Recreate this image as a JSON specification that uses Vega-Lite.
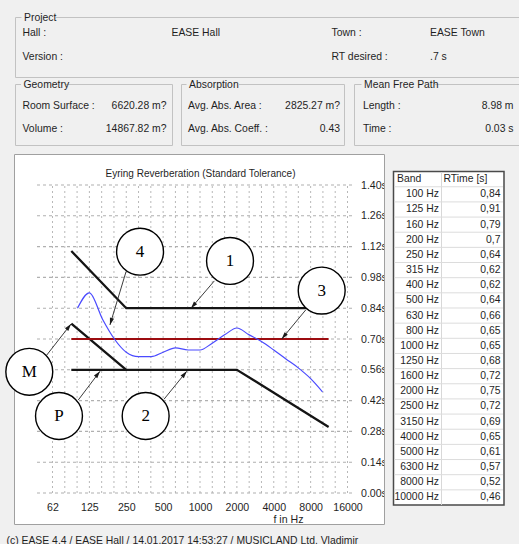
{
  "$schema": "https://vega.github.io/schema/vega-lite/v6.json",
  "width": 318,
  "height": 308,
  "autosize": {"type": "none"},
  "padding": {"left": 37, "top": 185, "right": 164, "bottom": 51},
  "background": "#ffffff",
  "config": {
    "view": {"stroke": null},
    "font": "Liberation Sans",
    "text": {"font": "Liberation Sans", "fontSize": 10.4, "color": "#1f1f1f"},
    "axis": {
      "labelFont": "Liberation Sans", "labelFontSize": 10.6, "labelColor": "#1f1f1f",
      "titleFont": "Liberation Sans", "titleFontSize": 10.6, "titleFontWeight": "normal", "titleColor": "#1f1f1f"
    },
    "locale": {"number": {"decimal": ",", "thousands": ".", "grouping": [3], "currency": ["", " €"]}}
  },
  "datasets": {
    "frames": [
      {"kind": "window", "left": 0, "top": 0, "right": 519, "bottom": 154},
      {"kind": "window", "left": 0, "top": 154, "right": 14, "bottom": 544},
      {"kind": "window", "left": 385, "top": 154, "right": 519, "bottom": 544},
      {"kind": "window", "left": 0, "top": 525, "right": 519, "bottom": 544},
      {"kind": "panel", "left": 14.5, "top": 154.5, "right": 384.5, "bottom": 524.5},
      {"kind": "group", "left": 15.5, "top": 17.5, "right": 530, "bottom": 77.5},
      {"kind": "group", "left": 15.5, "top": 84.5, "right": 172.5, "bottom": 145.5},
      {"kind": "group", "left": 181.5, "top": 84.5, "right": 344.5, "bottom": 145.5},
      {"kind": "group", "left": 354.5, "top": 84.5, "right": 530, "bottom": 145.5},
      {"kind": "table", "left": 393.5, "top": 171.5, "right": 504, "bottom": 505},
      {"kind": "divider", "left": 441.5, "top": 172, "right": 441.5, "bottom": 505}
    ],
    "groupTitles": [
      {"title": "Project", "from": 21.5, "to": 56, "mid": 17.5, "top": 14, "bottom": 21},
      {"title": "Geometry", "from": 21, "to": 66, "mid": 84.5, "top": 81, "bottom": 88},
      {"title": "Absorption", "from": 186.5, "to": 239, "mid": 84.5, "top": 81, "bottom": 88},
      {"title": "Mean Free Path", "from": 361.5, "to": 435, "mid": 84.5, "top": 81, "bottom": 88}
    ],
    "captionsLeft": [
      {"text": "Hall :", "x": 22.5, "y": 33},
      {"text": "EASE Hall", "x": 171.5, "y": 33},
      {"text": "Town :", "x": 331.5, "y": 33},
      {"text": "EASE Town", "x": 430, "y": 33},
      {"text": "Version :", "x": 22.5, "y": 57},
      {"text": "RT desired :", "x": 331.5, "y": 57},
      {"text": ".7 s", "x": 430, "y": 57},
      {"text": "Room Surface :", "x": 22.5, "y": 105.5},
      {"text": "Volume :", "x": 22.5, "y": 129},
      {"text": "Avg. Abs. Area :", "x": 188, "y": 105.5},
      {"text": "Avg. Abs. Coeff. :", "x": 188, "y": 129},
      {"text": "Length :", "x": 363, "y": 105.5},
      {"text": "Time :", "x": 363, "y": 129},
      {"text": "(c) EASE 4.4  / EASE Hall  / 14.01.2017 14:53:27 / MUSICLAND Ltd. Vladimir", "x": 6.5, "y": 540.5}
    ],
    "captionsRight": [
      {"text": "6620.28 m?", "x": 166.5, "y": 105.5},
      {"text": "14867.82 m?", "x": 166.5, "y": 129},
      {"text": "2825.27 m?", "x": 340, "y": 105.5},
      {"text": "0.43", "x": 340, "y": 129},
      {"text": "8.98 m", "x": 513.5, "y": 105.5},
      {"text": "0.03 s", "x": 513.5, "y": 129}
    ],
    "chartTitle": [
      {"text": "Eyring Reverberation (Standard Tolerance)", "x": 200.5, "y": 174}
    ],
    "thirdOctaves": [
      {"f": 62.5}, {"f": 78.745}, {"f": 99.213}, {"f": 125}, {"f": 157.49}, {"f": 198.43}, {"f": 250},
      {"f": 314.98}, {"f": 396.85}, {"f": 500}, {"f": 629.96}, {"f": 793.7}, {"f": 1000}, {"f": 1259.9},
      {"f": 1587.4}, {"f": 2000}, {"f": 2519.8}, {"f": 3174.8}, {"f": 4000}, {"f": 5039.7}, {"f": 6349.6},
      {"f": 8000}, {"f": 10079}, {"f": 12699}, {"f": 16000}
    ],
    "levelLines": [
      {"level": 0, "f": 46.7}, {"level": 0, "f": 18420},
      {"level": 0.14, "f": 46.7}, {"level": 0.14, "f": 18420},
      {"level": 0.28, "f": 46.7}, {"level": 0.28, "f": 18420},
      {"level": 0.42, "f": 46.7}, {"level": 0.42, "f": 18420},
      {"level": 0.56, "f": 46.7}, {"level": 0.56, "f": 18420},
      {"level": 0.7, "f": 46.7}, {"level": 0.7, "f": 18420},
      {"level": 0.84, "f": 46.7}, {"level": 0.84, "f": 18420},
      {"level": 0.98, "f": 46.7}, {"level": 0.98, "f": 18420},
      {"level": 1.12, "f": 46.7}, {"level": 1.12, "f": 18420},
      {"level": 1.26, "f": 46.7}, {"level": 1.26, "f": 18420},
      {"level": 1.4, "f": 46.7}, {"level": 1.4, "f": 18420}
    ],
    "limits": [
      {"curve": "upper", "f": 89, "t": 1.1},
      {"curve": "upper", "f": 250, "t": 0.84},
      {"curve": "upper", "f": 11220, "t": 0.84},
      {"curve": "lower", "f": 89, "t": 0.56},
      {"curve": "lower", "f": 2000, "t": 0.56},
      {"curve": "lower", "f": 11220, "t": 0.3},
      {"curve": "bass", "f": 89, "t": 0.77},
      {"curve": "bass", "f": 250, "t": 0.56}
    ],
    "target": [
      {"f": 89, "t": 0.7},
      {"f": 11220, "t": 0.7}
    ],
    "rt": [
      {"band": "100 Hz", "f": 100, "rt": 0.84},
      {"band": "125 Hz", "f": 125, "rt": 0.91},
      {"band": "160 Hz", "f": 160, "rt": 0.79},
      {"band": "200 Hz", "f": 200, "rt": 0.7},
      {"band": "250 Hz", "f": 250, "rt": 0.64},
      {"band": "315 Hz", "f": 315, "rt": 0.62},
      {"band": "400 Hz", "f": 400, "rt": 0.62},
      {"band": "500 Hz", "f": 500, "rt": 0.64},
      {"band": "630 Hz", "f": 630, "rt": 0.66},
      {"band": "800 Hz", "f": 800, "rt": 0.65},
      {"band": "1000 Hz", "f": 1000, "rt": 0.65},
      {"band": "1250 Hz", "f": 1250, "rt": 0.68},
      {"band": "1600 Hz", "f": 1600, "rt": 0.72},
      {"band": "2000 Hz", "f": 2000, "rt": 0.75},
      {"band": "2500 Hz", "f": 2500, "rt": 0.72},
      {"band": "3150 Hz", "f": 3150, "rt": 0.69},
      {"band": "4000 Hz", "f": 4000, "rt": 0.65},
      {"band": "5000 Hz", "f": 5000, "rt": 0.61},
      {"band": "6300 Hz", "f": 6300, "rt": 0.57},
      {"band": "8000 Hz", "f": 8000, "rt": 0.52},
      {"band": "10000 Hz", "f": 10000, "rt": 0.46}
    ],
    "callouts": [
      {"mark": "4", "f": 324, "t": 1.097, "fFrom": 249, "tFrom": 1.006, "fTo": 184, "tTo": 0.764, "heading": -163.3},
      {"mark": "1", "f": 1758, "t": 1.055, "fFrom": 1309, "tFrom": 0.964, "fTo": 844, "tTo": 0.84, "heading": -139.5},
      {"mark": "3", "f": 9850, "t": 0.92, "fFrom": 7294, "tFrom": 0.832, "fTo": 4645, "tTo": 0.7, "heading": -140.7},
      {"mark": "M", "f": 40.4, "t": 0.551, "fFrom": 56.1, "tFrom": 0.627, "fTo": 88.5, "tTo": 0.768, "heading": 38.1},
      {"mark": "P", "f": 70.6, "t": 0.35, "fFrom": 101.5, "tFrom": 0.423, "fTo": 152.6, "tTo": 0.553, "heading": 38.5},
      {"mark": "2", "f": 360, "t": 0.35, "fFrom": 508, "tFrom": 0.426, "fTo": 779, "tTo": 0.553, "heading": 39.4}
    ]
  },
  "layer": [
    {
      "layer": [
        {
          "data": {"name": "frames"},
          "transform": [{"filter": "datum.kind == 'window'"}],
          "mark": {"type": "rect", "fill": "#f0f0f0"},
          "encoding": {
            "x": {"field": "left", "type": "quantitative", "scale": {"domain": [37, 355], "zero": false, "nice": false}, "axis": null},
            "x2": {"field": "right"},
            "y": {"field": "top", "type": "quantitative", "scale": {"domain": [185, 493], "reverse": true, "zero": false, "nice": false}, "axis": null},
            "y2": {"field": "bottom"}
          }
        },
        {
          "data": {"name": "frames"},
          "transform": [{"filter": "datum.kind == 'panel'"}],
          "mark": {"type": "rect", "fill": "#ffffff", "fillOpacity": 0, "stroke": "#a0a0a0", "strokeWidth": 1},
          "encoding": {
            "x": {"field": "left", "type": "quantitative", "scale": {"domain": [37, 355], "zero": false, "nice": false}, "axis": null},
            "x2": {"field": "right"},
            "y": {"field": "top", "type": "quantitative", "scale": {"domain": [185, 493], "reverse": true, "zero": false, "nice": false}, "axis": null},
            "y2": {"field": "bottom"}
          }
        },
        {
          "data": {"name": "frames"},
          "transform": [{"filter": "datum.kind == 'group'"}],
          "mark": {"type": "rect", "fill": "#f0f0f0", "fillOpacity": 0, "stroke": "#c2c2c2", "strokeWidth": 1},
          "encoding": {
            "x": {"field": "left", "type": "quantitative", "scale": {"domain": [37, 355], "zero": false, "nice": false}, "axis": null},
            "x2": {"field": "right"},
            "y": {"field": "top", "type": "quantitative", "scale": {"domain": [185, 493], "reverse": true, "zero": false, "nice": false}, "axis": null},
            "y2": {"field": "bottom"}
          }
        },
        {
          "data": {"name": "frames"},
          "transform": [{"filter": "datum.kind == 'table'"}],
          "mark": {"type": "rect", "fill": "#ffffff", "stroke": "#4a4a4a", "strokeWidth": 1.5},
          "encoding": {
            "x": {"field": "left", "type": "quantitative", "scale": {"domain": [37, 355], "zero": false, "nice": false}, "axis": null},
            "x2": {"field": "right"},
            "y": {"field": "top", "type": "quantitative", "scale": {"domain": [185, 493], "reverse": true, "zero": false, "nice": false}, "axis": null},
            "y2": {"field": "bottom"}
          }
        },
        {
          "data": {"name": "frames"},
          "transform": [{"filter": "datum.kind == 'divider'"}],
          "mark": {"type": "rule", "color": "#d8d8d8", "strokeWidth": 1},
          "encoding": {
            "x": {"field": "left", "type": "quantitative", "scale": {"domain": [37, 355], "zero": false, "nice": false}, "axis": null},
            "y": {"field": "top", "type": "quantitative", "scale": {"domain": [185, 493], "reverse": true, "zero": false, "nice": false}, "axis": null},
            "y2": {"field": "bottom"}
          }
        },
        {
          "data": {"name": "groupTitles"},
          "mark": {"type": "rect", "fill": "#f0f0f0"},
          "encoding": {
            "x": {"field": "from", "type": "quantitative", "scale": {"domain": [37, 355], "zero": false, "nice": false}, "axis": null},
            "x2": {"field": "to"},
            "y": {"field": "top", "type": "quantitative", "scale": {"domain": [185, 493], "reverse": true, "zero": false, "nice": false}, "axis": null},
            "y2": {"field": "bottom"}
          }
        },
        {
          "data": {"name": "groupTitles"},
          "mark": {"type": "text", "align": "left", "baseline": "middle", "dx": 2.5},
          "encoding": {
            "x": {"field": "from", "type": "quantitative", "scale": {"domain": [37, 355], "zero": false, "nice": false}, "axis": null},
            "y": {"field": "mid", "type": "quantitative", "scale": {"domain": [185, 493], "reverse": true, "zero": false, "nice": false}, "axis": null},
            "text": {"field": "title"}
          }
        },
        {
          "data": {"name": "captionsLeft"},
          "mark": {"type": "text", "align": "left", "baseline": "middle"},
          "encoding": {
            "x": {"field": "x", "type": "quantitative", "scale": {"domain": [37, 355], "zero": false, "nice": false}, "axis": null},
            "y": {"field": "y", "type": "quantitative", "scale": {"domain": [185, 493], "reverse": true, "zero": false, "nice": false}, "axis": null},
            "text": {"field": "text"}
          }
        },
        {
          "data": {"name": "captionsRight"},
          "mark": {"type": "text", "align": "right", "baseline": "middle"},
          "encoding": {
            "x": {"field": "x", "type": "quantitative", "scale": {"domain": [37, 355], "zero": false, "nice": false}, "axis": null},
            "y": {"field": "y", "type": "quantitative", "scale": {"domain": [185, 493], "reverse": true, "zero": false, "nice": false}, "axis": null},
            "text": {"field": "text"}
          }
        },
        {
          "data": {"name": "chartTitle"},
          "mark": {"type": "text", "align": "center", "baseline": "middle", "fontSize": 10},
          "encoding": {
            "x": {"field": "x", "type": "quantitative", "scale": {"domain": [37, 355], "zero": false, "nice": false}, "axis": null},
            "y": {"field": "y", "type": "quantitative", "scale": {"domain": [185, 493], "reverse": true, "zero": false, "nice": false}, "axis": null},
            "text": {"field": "text"}
          }
        }
      ]
    },
    {
      "layer": [
        {
          "data": {"name": "thirdOctaves"},
          "mark": {"type": "rule", "color": "#b8b8b8", "strokeWidth": 1, "strokeDash": [2, 3]},
          "encoding": {
            "x": {"field": "f", "type": "quantitative", "scale": {"type": "log", "base": 2, "domain": [46.7, 18420], "nice": false},
              "axis": {"orient": "bottom", "zindex": 0, "values": [62.5, 125, 250, 500, 1000, 2000, 4000, 8000, 16000], "labelExpr": "datum.value < 100 ? '62' : format(datum.value, 'd')", "grid": false, "domain": false, "ticks": false, "tickSize": 0, "labelPadding": 9, "labelOverlap": false, "labelFlush": false, "labelBound": false, "title": "f in Hz", "titleX": 251, "titleY": 26, "titleAlign": "center", "titleBaseline": "middle"}},
            "y": {"datum": 0, "type": "quantitative", "scale": {"domain": [0, 1.4], "nice": false},
              "axis": {"orient": "right", "zindex": 0, "values": [0, 0.14, 0.28, 0.42, 0.56, 0.7, 0.84, 0.98, 1.12, 1.26, 1.4], "format": ".2f", "labelExpr": "replace(datum.label, ',', '.') + 's'", "grid": false, "domain": false, "ticks": false, "tickSize": 0, "labelPadding": 5.5, "labelAlign": "left", "labelBaseline": "middle", "labelOverlap": false, "labelFlush": false, "labelBound": false, "title": null}},
            "y2": {"datum": 1.4}
          }
        },
        {
          "data": {"name": "levelLines"},
          "mark": {"type": "line", "color": "#b0b0b0", "strokeWidth": 1.1, "strokeDash": [3, 3]},
          "encoding": {
            "x": {"field": "f", "type": "quantitative", "scale": {"type": "log", "base": 2, "domain": [46.7, 18420], "nice": false},
              "axis": {"orient": "bottom", "zindex": 0, "values": [62.5, 125, 250, 500, 1000, 2000, 4000, 8000, 16000], "labelExpr": "datum.value < 100 ? '62' : format(datum.value, 'd')", "grid": false, "domain": false, "ticks": false, "tickSize": 0, "labelPadding": 9, "labelOverlap": false, "labelFlush": false, "labelBound": false, "title": "f in Hz", "titleX": 251, "titleY": 26, "titleAlign": "center", "titleBaseline": "middle"}},
            "y": {"field": "level", "type": "quantitative", "scale": {"domain": [0, 1.4], "nice": false},
              "axis": {"orient": "right", "zindex": 0, "values": [0, 0.14, 0.28, 0.42, 0.56, 0.7, 0.84, 0.98, 1.12, 1.26, 1.4], "format": ".2f", "labelExpr": "replace(datum.label, ',', '.') + 's'", "grid": false, "domain": false, "ticks": false, "tickSize": 0, "labelPadding": 5.5, "labelAlign": "left", "labelBaseline": "middle", "labelOverlap": false, "labelFlush": false, "labelBound": false, "title": null}},
            "detail": {"field": "level", "type": "nominal"}
          }
        },
        {
          "data": {"name": "limits"},
          "mark": {"type": "line", "color": "#141414", "strokeWidth": 2.3, "strokeCap": "butt"},
          "encoding": {
            "x": {"field": "f", "type": "quantitative", "scale": {"type": "log", "base": 2, "domain": [46.7, 18420], "nice": false},
              "axis": {"orient": "bottom", "zindex": 0, "values": [62.5, 125, 250, 500, 1000, 2000, 4000, 8000, 16000], "labelExpr": "datum.value < 100 ? '62' : format(datum.value, 'd')", "grid": false, "domain": false, "ticks": false, "tickSize": 0, "labelPadding": 9, "labelOverlap": false, "labelFlush": false, "labelBound": false, "title": "f in Hz", "titleX": 251, "titleY": 26, "titleAlign": "center", "titleBaseline": "middle"}},
            "y": {"field": "t", "type": "quantitative", "scale": {"domain": [0, 1.4], "nice": false},
              "axis": {"orient": "right", "zindex": 0, "values": [0, 0.14, 0.28, 0.42, 0.56, 0.7, 0.84, 0.98, 1.12, 1.26, 1.4], "format": ".2f", "labelExpr": "replace(datum.label, ',', '.') + 's'", "grid": false, "domain": false, "ticks": false, "tickSize": 0, "labelPadding": 5.5, "labelAlign": "left", "labelBaseline": "middle", "labelOverlap": false, "labelFlush": false, "labelBound": false, "title": null}},
            "detail": {"field": "curve"}
          }
        },
        {
          "data": {"name": "target"},
          "mark": {"type": "line", "color": "#9c0c10", "strokeWidth": 2},
          "encoding": {
            "x": {"field": "f", "type": "quantitative", "scale": {"type": "log", "base": 2, "domain": [46.7, 18420], "nice": false},
              "axis": {"orient": "bottom", "zindex": 0, "values": [62.5, 125, 250, 500, 1000, 2000, 4000, 8000, 16000], "labelExpr": "datum.value < 100 ? '62' : format(datum.value, 'd')", "grid": false, "domain": false, "ticks": false, "tickSize": 0, "labelPadding": 9, "labelOverlap": false, "labelFlush": false, "labelBound": false, "title": "f in Hz", "titleX": 251, "titleY": 26, "titleAlign": "center", "titleBaseline": "middle"}},
            "y": {"field": "t", "type": "quantitative", "scale": {"domain": [0, 1.4], "nice": false},
              "axis": {"orient": "right", "zindex": 0, "values": [0, 0.14, 0.28, 0.42, 0.56, 0.7, 0.84, 0.98, 1.12, 1.26, 1.4], "format": ".2f", "labelExpr": "replace(datum.label, ',', '.') + 's'", "grid": false, "domain": false, "ticks": false, "tickSize": 0, "labelPadding": 5.5, "labelAlign": "left", "labelBaseline": "middle", "labelOverlap": false, "labelFlush": false, "labelBound": false, "title": null}}
          }
        },
        {
          "data": {"name": "rt"},
          "mark": {"type": "line", "color": "#4a4aff", "strokeWidth": 1.2, "interpolate": "monotone"},
          "encoding": {
            "x": {"field": "f", "type": "quantitative", "scale": {"type": "log", "base": 2, "domain": [46.7, 18420], "nice": false},
              "axis": {"orient": "bottom", "zindex": 0, "values": [62.5, 125, 250, 500, 1000, 2000, 4000, 8000, 16000], "labelExpr": "datum.value < 100 ? '62' : format(datum.value, 'd')", "grid": false, "domain": false, "ticks": false, "tickSize": 0, "labelPadding": 9, "labelOverlap": false, "labelFlush": false, "labelBound": false, "title": "f in Hz", "titleX": 251, "titleY": 26, "titleAlign": "center", "titleBaseline": "middle"}},
            "y": {"field": "rt", "type": "quantitative", "scale": {"domain": [0, 1.4], "nice": false},
              "axis": {"orient": "right", "zindex": 0, "values": [0, 0.14, 0.28, 0.42, 0.56, 0.7, 0.84, 0.98, 1.12, 1.26, 1.4], "format": ".2f", "labelExpr": "replace(datum.label, ',', '.') + 's'", "grid": false, "domain": false, "ticks": false, "tickSize": 0, "labelPadding": 5.5, "labelAlign": "left", "labelBaseline": "middle", "labelOverlap": false, "labelFlush": false, "labelBound": false, "title": null}}
          }
        },
        {
          "data": {"name": "callouts"},
          "mark": {"type": "rule", "color": "#262626", "strokeWidth": 0.9},
          "encoding": {
            "x": {"field": "fFrom", "type": "quantitative", "scale": {"type": "log", "base": 2, "domain": [46.7, 18420], "nice": false},
              "axis": {"orient": "bottom", "zindex": 0, "values": [62.5, 125, 250, 500, 1000, 2000, 4000, 8000, 16000], "labelExpr": "datum.value < 100 ? '62' : format(datum.value, 'd')", "grid": false, "domain": false, "ticks": false, "tickSize": 0, "labelPadding": 9, "labelOverlap": false, "labelFlush": false, "labelBound": false, "title": "f in Hz", "titleX": 251, "titleY": 26, "titleAlign": "center", "titleBaseline": "middle"}},
            "y": {"field": "tFrom", "type": "quantitative", "scale": {"domain": [0, 1.4], "nice": false},
              "axis": {"orient": "right", "zindex": 0, "values": [0, 0.14, 0.28, 0.42, 0.56, 0.7, 0.84, 0.98, 1.12, 1.26, 1.4], "format": ".2f", "labelExpr": "replace(datum.label, ',', '.') + 's'", "grid": false, "domain": false, "ticks": false, "tickSize": 0, "labelPadding": 5.5, "labelAlign": "left", "labelBaseline": "middle", "labelOverlap": false, "labelFlush": false, "labelBound": false, "title": null}},
            "x2": {"field": "fTo"},
            "y2": {"field": "tTo"}
          }
        },
        {
          "data": {"name": "callouts"},
          "mark": {"type": "point", "shape": "M0,0L-0.3,1L0.3,1Z", "filled": true, "color": "#1a1a1a", "size": 200, "opacity": 1, "strokeWidth": 0},
          "encoding": {
            "x": {"field": "fTo", "type": "quantitative", "scale": {"type": "log", "base": 2, "domain": [46.7, 18420], "nice": false},
              "axis": {"orient": "bottom", "zindex": 0, "values": [62.5, 125, 250, 500, 1000, 2000, 4000, 8000, 16000], "labelExpr": "datum.value < 100 ? '62' : format(datum.value, 'd')", "grid": false, "domain": false, "ticks": false, "tickSize": 0, "labelPadding": 9, "labelOverlap": false, "labelFlush": false, "labelBound": false, "title": "f in Hz", "titleX": 251, "titleY": 26, "titleAlign": "center", "titleBaseline": "middle"}},
            "y": {"field": "tTo", "type": "quantitative", "scale": {"domain": [0, 1.4], "nice": false},
              "axis": {"orient": "right", "zindex": 0, "values": [0, 0.14, 0.28, 0.42, 0.56, 0.7, 0.84, 0.98, 1.12, 1.26, 1.4], "format": ".2f", "labelExpr": "replace(datum.label, ',', '.') + 's'", "grid": false, "domain": false, "ticks": false, "tickSize": 0, "labelPadding": 5.5, "labelAlign": "left", "labelBaseline": "middle", "labelOverlap": false, "labelFlush": false, "labelBound": false, "title": null}},
            "angle": {"field": "heading", "type": "quantitative", "scale": null}
          }
        },
        {
          "data": {"name": "callouts"},
          "mark": {"type": "point", "shape": "circle", "filled": true, "fill": "#ffffff", "stroke": "#000000", "strokeWidth": 1.4, "size": 2200, "opacity": 1},
          "encoding": {
            "x": {"field": "f", "type": "quantitative", "scale": {"type": "log", "base": 2, "domain": [46.7, 18420], "nice": false},
              "axis": {"orient": "bottom", "zindex": 0, "values": [62.5, 125, 250, 500, 1000, 2000, 4000, 8000, 16000], "labelExpr": "datum.value < 100 ? '62' : format(datum.value, 'd')", "grid": false, "domain": false, "ticks": false, "tickSize": 0, "labelPadding": 9, "labelOverlap": false, "labelFlush": false, "labelBound": false, "title": "f in Hz", "titleX": 251, "titleY": 26, "titleAlign": "center", "titleBaseline": "middle"}},
            "y": {"field": "t", "type": "quantitative", "scale": {"domain": [0, 1.4], "nice": false},
              "axis": {"orient": "right", "zindex": 0, "values": [0, 0.14, 0.28, 0.42, 0.56, 0.7, 0.84, 0.98, 1.12, 1.26, 1.4], "format": ".2f", "labelExpr": "replace(datum.label, ',', '.') + 's'", "grid": false, "domain": false, "ticks": false, "tickSize": 0, "labelPadding": 5.5, "labelAlign": "left", "labelBaseline": "middle", "labelOverlap": false, "labelFlush": false, "labelBound": false, "title": null}}
          }
        },
        {
          "data": {"name": "callouts"},
          "mark": {"type": "text", "font": "Liberation Serif", "fontSize": 17, "color": "#000000", "align": "center", "baseline": "middle"},
          "encoding": {
            "x": {"field": "f", "type": "quantitative", "scale": {"type": "log", "base": 2, "domain": [46.7, 18420], "nice": false},
              "axis": {"orient": "bottom", "zindex": 0, "values": [62.5, 125, 250, 500, 1000, 2000, 4000, 8000, 16000], "labelExpr": "datum.value < 100 ? '62' : format(datum.value, 'd')", "grid": false, "domain": false, "ticks": false, "tickSize": 0, "labelPadding": 9, "labelOverlap": false, "labelFlush": false, "labelBound": false, "title": "f in Hz", "titleX": 251, "titleY": 26, "titleAlign": "center", "titleBaseline": "middle"}},
            "y": {"field": "t", "type": "quantitative", "scale": {"domain": [0, 1.4], "nice": false},
              "axis": {"orient": "right", "zindex": 0, "values": [0, 0.14, 0.28, 0.42, 0.56, 0.7, 0.84, 0.98, 1.12, 1.26, 1.4], "format": ".2f", "labelExpr": "replace(datum.label, ',', '.') + 's'", "grid": false, "domain": false, "ticks": false, "tickSize": 0, "labelPadding": 5.5, "labelAlign": "left", "labelBaseline": "middle", "labelOverlap": false, "labelFlush": false, "labelBound": false, "title": null}},
            "text": {"field": "mark"}
          }
        }
      ]
    },
    {
      "layer": [
        {
          "data": {"name": "rt"},
          "mark": {"type": "rule", "color": "#dcdcdc", "strokeWidth": 1},
          "encoding": {
            "y": {
              "field": "band", "type": "nominal", "bandPosition": 0,
              "scale": {"type": "band", "domain": ["Band", "100 Hz", "125 Hz", "160 Hz", "200 Hz", "250 Hz", "315 Hz", "400 Hz", "500 Hz", "630 Hz", "800 Hz", "1000 Hz", "1250 Hz", "1600 Hz", "2000 Hz", "2500 Hz", "3150 Hz", "4000 Hz", "5000 Hz", "6300 Hz", "8000 Hz", "10000 Hz"], "range": [-13.4, 320], "paddingInner": 0, "paddingOuter": 0},
              "axis": null
            },
            "x": {"datum": 394.5, "type": "quantitative", "scale": {"domain": [37, 355], "zero": false, "nice": false}, "axis": null},
            "x2": {"datum": 503}
          }
        },
        {
          "data": {"name": "rt"},
          "mark": {"type": "text", "align": "right", "baseline": "middle"},
          "encoding": {
            "y": {
              "field": "band", "type": "nominal",
              "scale": {"type": "band", "domain": ["Band", "100 Hz", "125 Hz", "160 Hz", "200 Hz", "250 Hz", "315 Hz", "400 Hz", "500 Hz", "630 Hz", "800 Hz", "1000 Hz", "1250 Hz", "1600 Hz", "2000 Hz", "2500 Hz", "3150 Hz", "4000 Hz", "5000 Hz", "6300 Hz", "8000 Hz", "10000 Hz"], "range": [-13.4, 320], "paddingInner": 0, "paddingOuter": 0},
              "axis": null
            },
            "x": {"datum": 439, "type": "quantitative", "scale": {"domain": [37, 355], "zero": false, "nice": false}, "axis": null},
            "text": {"field": "band"}
          }
        },
        {
          "data": {"name": "rt"},
          "mark": {"type": "text", "align": "right", "baseline": "middle"},
          "encoding": {
            "y": {
              "field": "band", "type": "nominal",
              "scale": {"type": "band", "domain": ["Band", "100 Hz", "125 Hz", "160 Hz", "200 Hz", "250 Hz", "315 Hz", "400 Hz", "500 Hz", "630 Hz", "800 Hz", "1000 Hz", "1250 Hz", "1600 Hz", "2000 Hz", "2500 Hz", "3150 Hz", "4000 Hz", "5000 Hz", "6300 Hz", "8000 Hz", "10000 Hz"], "range": [-13.4, 320], "paddingInner": 0, "paddingOuter": 0},
              "axis": null
            },
            "x": {"datum": 500.5, "type": "quantitative", "scale": {"domain": [37, 355], "zero": false, "nice": false}, "axis": null},
            "text": {"field": "rt", "type": "quantitative", "format": ".2~f"}
          }
        },
        {
          "data": {"values": [{"heading": "Band", "anchor": 397}, {"heading": "RTime [s]", "anchor": 443.5}]},
          "mark": {"type": "text", "align": "left", "baseline": "middle"},
          "encoding": {
            "y": {
              "datum": "Band", "type": "nominal",
              "scale": {"type": "band", "domain": ["Band", "100 Hz", "125 Hz", "160 Hz", "200 Hz", "250 Hz", "315 Hz", "400 Hz", "500 Hz", "630 Hz", "800 Hz", "1000 Hz", "1250 Hz", "1600 Hz", "2000 Hz", "2500 Hz", "3150 Hz", "4000 Hz", "5000 Hz", "6300 Hz", "8000 Hz", "10000 Hz"], "range": [-13.4, 320], "paddingInner": 0, "paddingOuter": 0},
              "axis": null
            },
            "x": {"field": "anchor", "type": "quantitative", "scale": {"domain": [37, 355], "zero": false, "nice": false}, "axis": null},
            "text": {"field": "heading"}
          }
        }
      ]
    }
  ],
  "resolve": {"scale": {"x": "independent", "y": "independent"}}
}
